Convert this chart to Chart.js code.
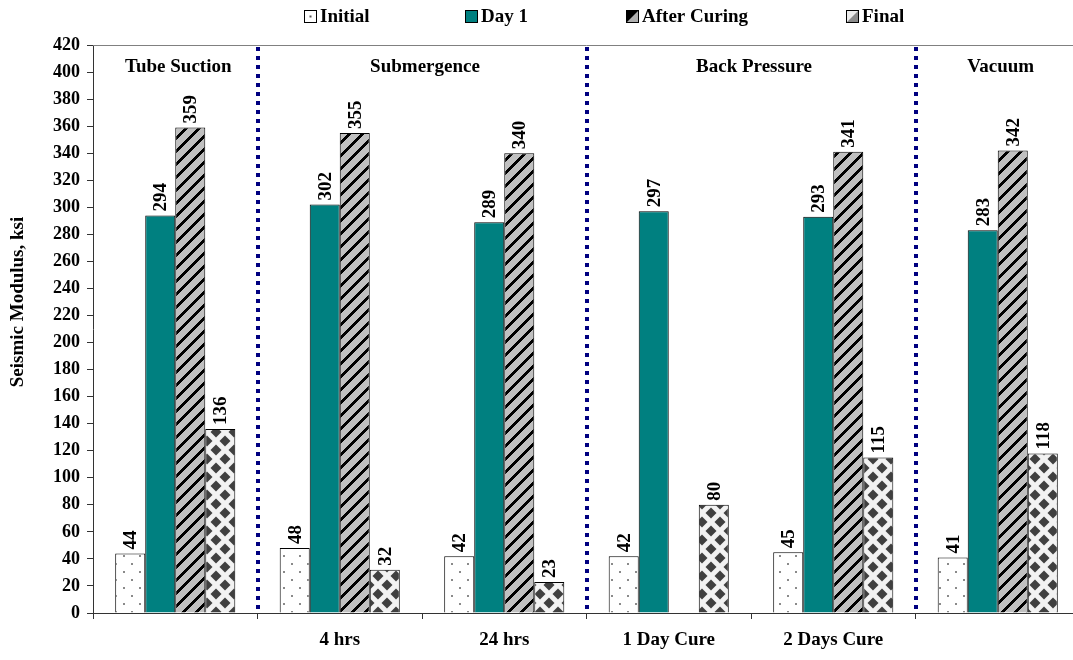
<!DOCTYPE html>
<html><head><meta charset="utf-8">
<script src="https://cdn.jsdelivr.net/npm/chart.js@4.4.1/dist/chart.umd.min.js"></script>
<style>
html,body{margin:0;padding:0;overflow:hidden;background:#fff;width:1073px;height:660px}
#wrap{width:1081px;height:660px;position:relative}
</style></head>
<body><div id="wrap"><canvas id="c" width="1081" height="660" style="width:1081px;height:660px"></canvas></div>
<script>
// ---- data ----
const categories = ['', '4 hrs', '24 hrs', '1 Day Cure', '2 Days Cure', ''];
const seriesNames = ['Initial', 'Day 1', 'After Curing', 'Final'];
const initialValues = [44, 48, 42, 42, 45, 41];
const day1Values = [294, 302, 289, 297, 293, 283];
const afterCuringValues = [359, 355, 340, null, 341, 342];
const finalValues = [136, 32, 23, 80, 115, 118];
const groupTitles = ['Tube Suction', 'Submergence', 'Back Pressure', 'Vacuum'];
const groupSpans = [[0, 0], [1, 2], [3, 4], [5, 5]];
const separatorsAfter = [0, 2, 4];
const yMin = 0, yMax = 420, yStep = 20;
const yTitle = 'Seismic Modulus, ksi';

// ---- styles ----
const FONT = "'Liberation Serif','Times New Roman',serif";
Chart.defaults.font.family = FONT;
Chart.defaults.color = '#000';

function tile(w, h, draw) {
  const c = document.createElement('canvas'); c.width = w; c.height = h;
  draw(c.getContext('2d'), w, h); return c;
}
const mainCtx = document.getElementById('c').getContext('2d');
const dotsTile = tile(16, 16, (g) => {
  g.fillStyle = '#fff'; g.fillRect(0, 0, 16, 16);
  g.fillStyle = '#8a8a8a'; g.fillRect(3, 3, 2, 2); g.fillRect(11, 11, 2, 2);
});
const stripeTile = tile(13, 13, (g, w, h) => {
  const img = g.createImageData(w, h);
  for (let y = 0; y < h; y++) for (let x = 0; x < w; x++) {
    const i = (y * w + x) * 4; const dark = ((x + y) % 13) < 4;
    const v = dark ? 0 : 192;
    img.data[i] = v; img.data[i + 1] = v; img.data[i + 2] = v; img.data[i + 3] = 255;
  }
  g.putImageData(img, 0, 0);
});
const diamondTile = tile(18, 18, (g, w, h) => {
  g.fillStyle = '#f2f2f2'; g.fillRect(0, 0, w, h);
  g.fillStyle = '#404040';
  const r = 5.5;
  [[0, 0], [w, 0], [0, h], [w, h], [w / 2, h / 2]].forEach(([cx, cy]) => {
    g.beginPath(); g.moveTo(cx, cy - r); g.lineTo(cx + r, cy); g.lineTo(cx, cy + r); g.lineTo(cx - r, cy); g.closePath(); g.fill();
  });
});
const fills = [
  mainCtx.createPattern(dotsTile, 'repeat'),
  '#008080',
  mainCtx.createPattern(stripeTile, 'repeat'),
  mainCtx.createPattern(diamondTile, 'repeat')
];
const seriesValues = [initialValues, day1Values, afterCuringValues, finalValues];

// legend icons
function drawIcon(ctx, idx, x, y, s) {
  ctx.save();
  if (idx === 0) {
    ctx.fillStyle = '#fff'; ctx.fillRect(x, y, s, s);
    ctx.fillStyle = '#555'; ctx.fillRect(x + s / 2 - 1, y + s / 2 - 1, 2, 2);
  } else if (idx === 1) {
    ctx.fillStyle = '#008080'; ctx.fillRect(x, y, s, s);
  } else if (idx === 2) {
    ctx.fillStyle = '#b0b0b0'; ctx.fillRect(x, y, s, s);
    ctx.fillStyle = '#000'; ctx.beginPath(); ctx.moveTo(x, y + s); ctx.lineTo(x + s, y); ctx.lineTo(x, y); ctx.closePath(); ctx.fill();
  } else {
    ctx.fillStyle = '#ededed'; ctx.fillRect(x, y, s, s);
    ctx.fillStyle = '#8c8c8c'; ctx.beginPath(); ctx.moveTo(x + s, y); ctx.lineTo(x + s, y + s); ctx.lineTo(x, y + s); ctx.closePath(); ctx.fill();
  }
  ctx.strokeStyle = '#000'; ctx.lineWidth = 1; ctx.strokeRect(x + 0.5, y + 0.5, s - 1, s - 1);
  ctx.restore();
}

const legendX = [304, 465, 626, 846];
const decorPlugin = {
  id: 'decor',
  afterDraw(chart) {
    const ctx = chart.ctx, area = chart.chartArea, xs = chart.scales.x;
    ctx.save();
    // top border
    ctx.strokeStyle = '#808080'; ctx.lineWidth = 1;
    ctx.beginPath(); ctx.moveTo(area.left, area.top + 0.5); ctx.lineTo(area.right, area.top + 0.5); ctx.stroke();
    // separators
    ctx.strokeStyle = '#000080'; ctx.lineWidth = 4; ctx.setLineDash([4, 5]);
    separatorsAfter.forEach(i => {
      const px = Math.round((xs.getPixelForValue(i) + xs.getPixelForValue(i + 1)) / 2);
      ctx.beginPath(); ctx.moveTo(px, area.top + 2); ctx.lineTo(px, area.bottom); ctx.stroke();
    });
    ctx.setLineDash([]);
    // group titles
    ctx.fillStyle = '#000'; ctx.font = 'bold 19px ' + FONT; ctx.textAlign = 'center'; ctx.textBaseline = 'middle';
    groupSpans.forEach(([a, b], k) => {
      const cx = (xs.getPixelForValue(a) + xs.getPixelForValue(b)) / 2;
      ctx.fillText(groupTitles[k], cx + 3, 67);
    });
    // value labels
    ctx.font = 'bold 19px ' + FONT; ctx.textAlign = 'left'; ctx.textBaseline = 'middle';
    chart.data.datasets.forEach((ds, di) => {
      const meta = chart.getDatasetMeta(di);
      meta.data.forEach((bar, i) => {
        const v = ds.data[i]; if (v === null || v === undefined) return;
        ctx.save(); ctx.translate(bar.x + 1, bar.y - 4); ctx.rotate(-Math.PI / 2);
        ctx.fillText(String(v), 0, 0); ctx.restore();
      });
    });
    // legend
    ctx.font = 'bold 19px ' + FONT;
    chart.data.datasets.forEach((ds, di) => {
      const x = legendX[di];
      drawIcon(ctx, di, x, 10, 13);
      ctx.fillStyle = '#000'; ctx.textAlign = 'left'; ctx.textBaseline = 'middle';
      ctx.fillText(ds.label, x + 16, 17);
    });
    // y title
    ctx.font = 'bold 19px ' + FONT;
    ctx.save(); ctx.translate(18, 302); ctx.rotate(-Math.PI / 2);
    ctx.textAlign = 'center'; ctx.textBaseline = 'middle'; ctx.fillText(yTitle, 0, 0); ctx.restore();
    ctx.restore();
  }
};

new Chart(document.getElementById('c'), {
  type: 'bar',
  data: {
    labels: categories,
    datasets: seriesNames.map((name, i) => ({
      label: name, data: seriesValues[i], backgroundColor: fills[i],
      borderColor: '#000', borderWidth: 1,
      categoryPercentage: 0.73, barPercentage: 1.0
    }))
  },
  options: {
    responsive: false, animation: false,
    layout: { padding: { top: 45, right: 1, bottom: 0, left: 0 } },
    plugins: { legend: { display: false }, tooltip: { enabled: false }, title: { display: false } },
    scales: {
      x: {
        offset: true,
        grid: { offset: true, drawOnChartArea: false, drawTicks: true, tickLength: 6, color: '#333' },
        border: { color: '#333', width: 1 },
        ticks: { font: { size: 19, weight: 'bold' }, color: '#000', padding: 10, maxRotation: 0, autoSkip: false },
        afterFit: s => { s.height = 47; }
      },
      y: {
        min: yMin, max: yMax,
        grid: { drawOnChartArea: false, tickLength: 6, color: '#333' },
        border: { color: '#333', width: 1 },
        ticks: { stepSize: yStep, font: { size: 18, weight: 'bold' }, color: '#000', padding: 7 },
        afterFit: s => { s.width = 93; }
      }
    }
  },
  plugins: [decorPlugin]
});
</script>
</body></html>
